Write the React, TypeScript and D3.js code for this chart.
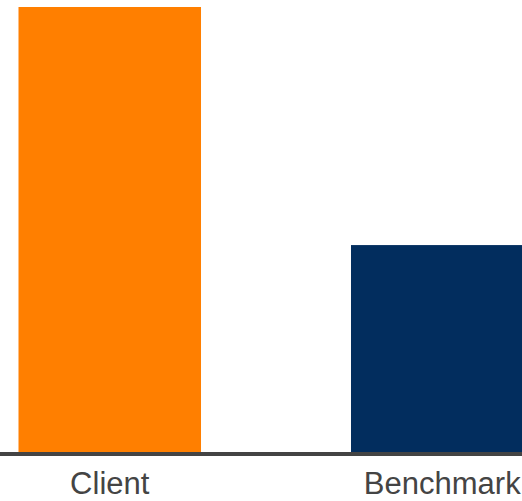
import React from "react";
import * as d3 from "d3";

const categories = ["Client", "Benchmark"];
const values = [100, 46.5];
const colors = ["#FF7F00", "#022D5E"];

const W = 522;
const H = 501;

export default function App() {
  const x = d3
    .scaleBand<string>()
    .domain(categories)
    .range([18.5, 533.5])
    .paddingInner(0.4511)
    .paddingOuter(0);
  const y = d3.scaleLinear().domain([0, 100]).range([452, 7]);

  return (
    <svg
      width={W}
      height={H}
      style={{ position: "absolute", left: 0, top: 0, overflow: "hidden" }}
    >
      {categories.map((c, i) => (
        <rect
          key={c}
          x={x(c)!}
          y={y(values[i])}
          width={x.bandwidth()}
          height={y(0) - y(values[i])}
          fill={colors[i]}
        />
      ))}
      <line x1={0} x2={W} y1={454} y2={454} stroke="#444444" strokeWidth={4} />
      {categories.map((c) => (
        <text
          key={c}
          x={x(c)! + x.bandwidth() / 2}
          y={494}
          textAnchor="middle"
          fontFamily="Liberation Sans, Arial, sans-serif"
          fontSize={31}
          fill="#444444"
        >
          {c}
        </text>
      ))}
    </svg>
  );
}
